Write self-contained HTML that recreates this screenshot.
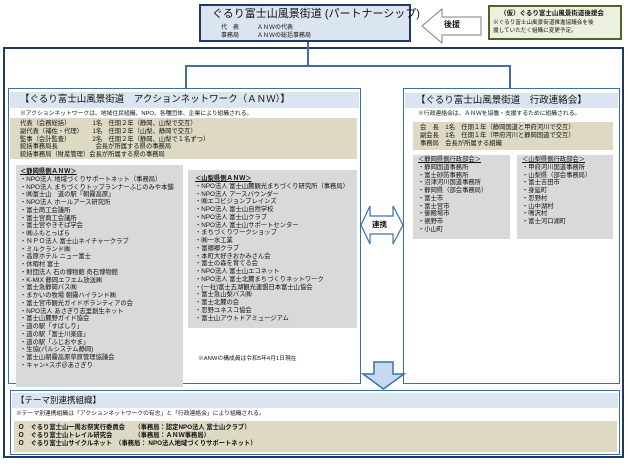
<!DOCTYPE html>
<html><head><meta charset="utf-8"><style>
*{margin:0;padding:0;box-sizing:border-box}
body{width:628px;height:471px;background:#fff;position:relative;overflow:hidden;font-family:"Liberation Sans","Noto Sans CJK JP",sans-serif;color:#111}
.a{position:absolute}
.t{position:absolute;white-space:nowrap;line-height:1}
.list div{font-size:6.3px;line-height:7.75px;white-space:nowrap}
.hd{background:#dbe5f1}
.tan{background:#ddd9c3}
.gry{background:#d9d9d9}
</style></head><body>
<!-- top box -->
<div class="a" style="left:199px;top:4px;width:212px;height:38px;background:#dbe5f1;border:2px solid #1f3864"></div>
<div class="t" style="left:212px;top:9px;font-size:11px;">ぐるり富士山風景街道 (パートナーシップ)</div>
<div class="t" style="left:221px;top:25px;font-size:6px;">代　表　　　ＡＮＷの代表</div>
<div class="t" style="left:221px;top:33px;font-size:6px;">事務局　　　ＡＮＷの総括事務局</div>
<!-- 後援 arrow -->
<svg class="a" style="left:420px;top:7px" width="64" height="38"><polygon points="2,19 22,2 22,10 61,10 61,28 22,28 22,36" fill="#fff" stroke="#7f7f7f" stroke-width="1"/></svg>
<div class="t" style="left:444px;top:21px;font-size:8px;font-weight:bold">後援</div>
<!-- green box -->
<div class="a" style="left:488px;top:5px;width:134px;height:35px;background:#ebf1de;border:2px solid #4f6228"></div>
<div class="t" style="left:500px;top:11px;font-size:6.5px;font-weight:bold">（仮）ぐるり富士山風景街道後援会</div>
<div class="t" style="left:493px;top:21px;font-size:5.6px;">※ぐるり富士山風景街道推進協議会を後</div>
<div class="t" style="left:493px;top:29px;font-size:5.6px;">援していただく組織に変更予定。</div>
<!-- outer -->
<div class="a" style="left:3px;top:47px;width:621px;height:411px;border:2px solid #1f3864"></div>
<!-- connectors -->
<div class="a" style="left:307px;top:42px;width:1.5px;height:24px;background:#3d6fa6"></div>
<div class="a" style="left:185px;top:65px;width:326px;height:1.5px;background:#3d6fa6"></div>
<div class="a" style="left:185px;top:65px;width:1.5px;height:23px;background:#3d6fa6"></div>
<div class="a" style="left:509px;top:65px;width:1.5px;height:23px;background:#3d6fa6"></div>
<!-- left panel -->
<div class="a" style="left:8px;top:88px;width:353px;height:296px;border:1.5px solid #3d6fa6"></div>
<div class="a hd" style="left:10px;top:92px;width:349px;height:16px"></div>
<div class="t" style="left:20px;top:95px;font-size:9.5px;">【ぐるり富士山風景街道　アクションネットワーク（ＡＮＷ）】</div>
<div class="t" style="left:20px;top:112px;font-size:5.8px;">※アクションネットワークは、地域住民組織、NPO、各種団体、企業により組織される。</div>
<div class="a tan" style="left:10px;top:118px;width:347px;height:41px"></div>
<div class="a list" style="left:20px;top:120px">
<div>代表（会務総括）　　　　1名　任期２年（静岡、山梨で交互）</div>
<div>副代表（補佐・代理）　　1名　任期２年（山梨、静岡で交互）</div>
<div>監事（会計監査）　　　　2名　任期２年（静岡、山梨で１名ずつ）</div>
<div>統括事務局長　　　　　　会長が所属する県の事務局</div>
<div>統括事務局（財産管理）会長が所属する県の事務局</div>
</div>
<div class="a gry" style="left:16px;top:165px;width:167px;height:222px"></div>
<div class="a list" style="left:20px;top:168px">
<div style="text-decoration:underline;font-weight:bold">＜静岡県側ＡＮＷ＞</div>
<div>・NPO法人 地域づくりサポートネット（事務局）</div>
<div>・NPO法人 まちづくりトップランナーふじのみや本舗</div>
<div>・㈱富士山　道の駅「朝霧高原」</div>
<div>・NPO法人 ホールアース研究所</div>
<div>・富士商工会議所</div>
<div>・富士宮商工会議所</div>
<div>・富士宮やきそば学会</div>
<div>・㈱ふもとっぱら</div>
<div>・ＮＰＯ法人 富士山ネイチャークラブ</div>
<div>・ミルクランド㈱</div>
<div>・高原ホテル ニュー富士</div>
<div>・休暇村 富士</div>
<div>・財団法人 石の博物館 奇石博物館</div>
<div>・K-MIX 静岡エフエム放送㈱</div>
<div>・富士急静岡バス㈱</div>
<div>・まかいの牧場 朝霧ハイランド㈱</div>
<div>・富士宮市観光ガイドボランティアの会</div>
<div>・NPO法人 あさぎり志里創生ネット</div>
<div>・富士山麓野ガイド協会</div>
<div>・道の駅「すばしり」</div>
<div>・道の駅「富士川楽座」</div>
<div>・道の駅「ふじおやま」</div>
<div>・生協(パルシステム静岡)</div>
<div>・富士山朝霧高原草原管理協議会</div>
<div>・キャン×スポ＠あさぎり</div>
</div>
<div class="a gry" style="left:188px;top:170px;width:169px;height:158px"></div>
<div class="a list" style="left:195px;top:175px">
<div style="text-decoration:underline;font-weight:bold">＜山梨県側ＡＮＷ＞</div>
<div>・NPO法人 富士山麓観光まちづくり研究所（事務局）</div>
<div>・NPO法人 アースバウンダー</div>
<div>・㈱エコビジョンブレインズ</div>
<div>・NPO法人 富士山自然学校</div>
<div>・NPO法人 富士山クラブ</div>
<div>・NPO法人 富士山サポートセンター</div>
<div>・まちづくりワークショップ</div>
<div>・㈱一水工業</div>
<div>・富郷郷クラブ</div>
<div>・本町大好きおかみさん会</div>
<div>・富士の森を育てる会</div>
<div>・NPO法人 富士山エコネット</div>
<div>・NPO法人 富士北麓まちづくりネットワーク</div>
<div>・(一社)富士五湖観光連盟日本富士山協会</div>
<div>・富士急山梨バス㈱</div>
<div>・富士北麓の会</div>
<div>・忍野ユネスコ協会</div>
<div>・富士山アウトドアミュージアム</div>
</div>
<div class="t" style="left:198px;top:357px;font-size:5.8px;">※ANWの構成員は令和5年4月1日現在</div>
<!-- right panel -->
<div class="a" style="left:403px;top:88px;width:217px;height:296px;border:1.5px solid #3d6fa6"></div>
<div class="a hd" style="left:405px;top:93px;width:213px;height:15px"></div>
<div class="t" style="left:416px;top:96px;font-size:9.5px;">【ぐるり富士山風景街道　行政連絡会】</div>
<div class="t" style="left:418px;top:112px;font-size:5.8px;">※行政連絡会は、ＡＮＷを協働・支援するために組織される。</div>
<div class="a tan" style="left:413px;top:122px;width:200px;height:28px"></div>
<div class="a list" style="left:420px;top:124px">
<div>会　長　1名　任期１年（静岡国道と甲府河川で交互）</div>
<div>副会長　1名　任期１年（甲府河川と静岡国道で交互）</div>
<div>事務局　会長が所属する組織</div>
</div>
<div class="a gry" style="left:413px;top:155px;width:97px;height:84px"></div>
<div class="a list" style="left:418px;top:156px">
<div style="text-decoration:underline">＜静岡県側行政部会＞</div>
<div>・静岡国道事務所</div>
<div>・富士砂防事務所</div>
<div>・沼津河川国道事務所</div>
<div>・静岡県（部会事務局）</div>
<div>・富士市</div>
<div>・富士宮市</div>
<div>・御殿場市</div>
<div>・裾野市</div>
<div>・小山町</div>
</div>
<div class="a gry" style="left:517px;top:155px;width:96px;height:84px"></div>
<div class="a list" style="left:522px;top:156px">
<div style="text-decoration:underline">＜山梨県側行政部会＞</div>
<div>・甲府河川国道事務所</div>
<div>・山梨県（部会事務局）</div>
<div>・富士吉田市</div>
<div>・身延町</div>
<div>・忍野村</div>
<div>・山中湖村</div>
<div>・鳴沢村</div>
<div>・富士河口湖町</div>
</div>
<!-- 連携 arrow -->
<svg class="a" style="left:359px;top:202px" width="46" height="46"><polygon points="2,23 11,4 11,14 34,14 34,4 44,23 34,42 34,32 11,32 11,42" fill="#fff" stroke="#3d6fa6" stroke-width="1.2"/></svg>
<div class="t" style="left:372px;top:221px;font-size:7.5px;font-weight:bold">連携</div>
<!-- down arrow -->
<svg class="a" style="left:361px;top:361px" width="45" height="29"><polygon points="13,1 32,1 32,13 43,13 22.5,28 2,13 13,13" fill="#c6d9f1" stroke="#3d6fa6" stroke-width="1.5"/></svg>
<!-- theme box -->
<div class="a" style="left:10px;top:390px;width:610px;height:65px;border:1.5px solid #3d6fa6"></div>
<div class="a hd" style="left:12px;top:393px;width:606px;height:15px"></div>
<div class="t" style="left:16px;top:396px;font-size:8.5px;">【テーマ別連携組織】</div>
<div class="t" style="left:16px;top:412px;font-size:5.8px;">※テーマ別連携組織は「アクションネットワークの有志」と「行政連絡会」により組織される。</div>
<div class="a tan" style="left:14px;top:421px;width:603px;height:31px"></div>
<div class="a list" style="left:18px;top:424px;font-weight:bold">
<div>Ｏ　ぐるり富士山一周お祭実行委員会　　（事務局：認定NPO法人 富士山クラブ）</div>
<div>Ｏ　ぐるり富士山トレイル研究会　　　　（事務局：ＡＮＷ事務局）</div>
<div>Ｏ　ぐるり富士山サイクルネット　（事務局： NPO法人地域づくりサポートネット）</div>
</div>
</body></html>
